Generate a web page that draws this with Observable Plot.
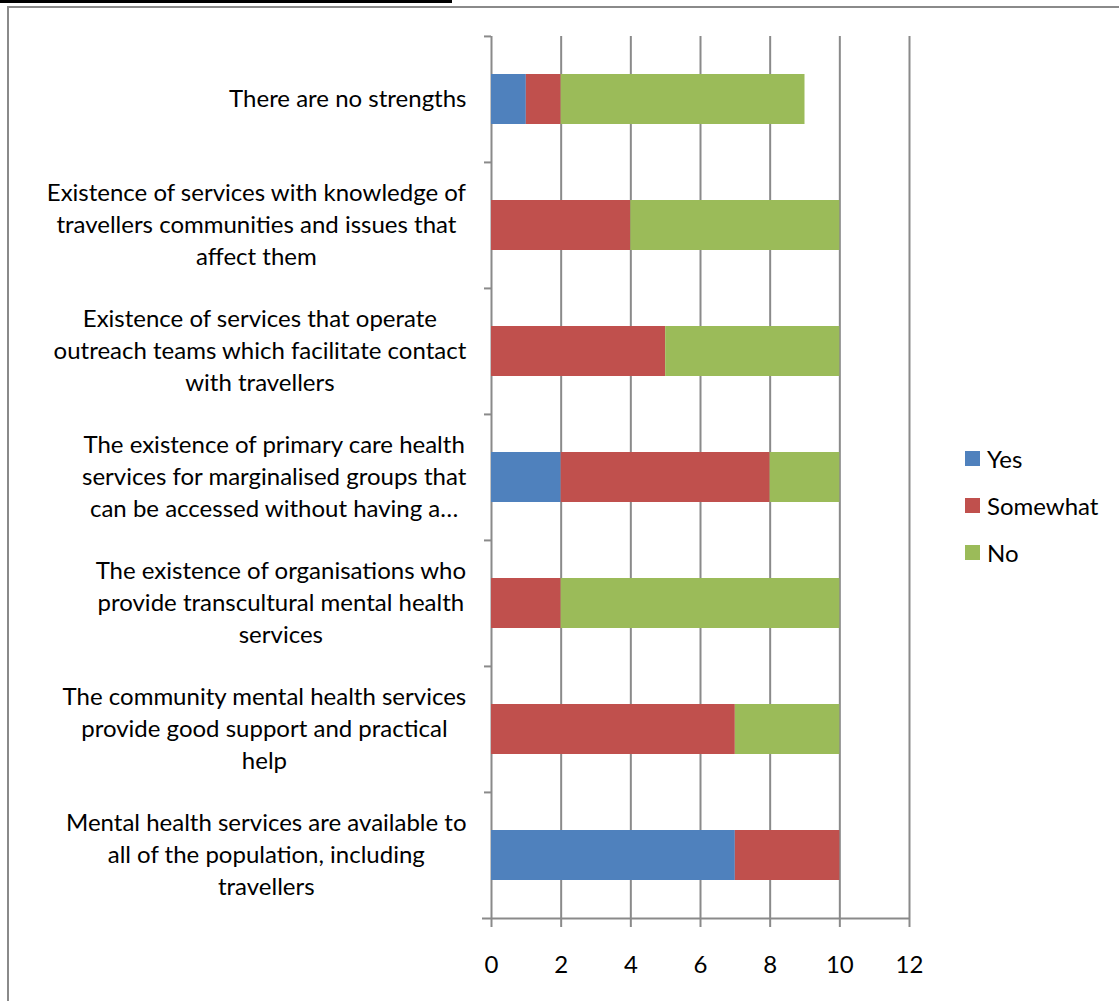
<!DOCTYPE html>
<html>
<head>
<meta charset="utf-8">
<script src="https://cdn.jsdelivr.net/npm/d3@7"></script>
<script src="https://cdn.jsdelivr.net/npm/@observablehq/plot@0.6"></script>
<style>
  html, body { margin: 0; padding: 0; background: #fff; }
  #wrap { position: relative; width: 1119px; height: 1001px; overflow: hidden; font-family: Lato, "Open Sans", sans-serif; }
  #topbar { position: absolute; left: 0; top: 0; width: 452px; height: 3px; background: #000; }
  #frame { position: absolute; left: 7px; top: 6px; width: 1130px; height: 1010px; border: 2px solid #8a8a8a; box-sizing: border-box; }
  #chart { position: absolute; left: 0; top: 0; }
  #legend { position: absolute; left: 965px; top: 435px; font-size: 24px; color: #000; }
  #legend .item { display: flex; align-items: center; height: 47px; }
  #legend .sw { width: 15px; height: 15px; margin-right: 7px; }
</style>
</head>
<body>
<div id="wrap">
  <div id="topbar"></div>
  <div id="frame"></div>
  <div id="chart"></div>
  <div id="legend"></div>
</div>
<script>
const categories = [
  "There are no strengths",
  "Existence of services with knowledge of\ntravellers communities and issues that\naffect them",
  "Existence of services that operate\noutreach teams which facilitate contact\nwith travellers",
  "The existence of primary care health\nservices for marginalised groups that\ncan be accessed without having a…",
  "The existence of organisations who\nprovide transcultural mental health\nservices",
  "The community mental health services\nprovide good support and practical\nhelp",
  "Mental health services are available to\nall of the population, including\ntravellers"
];
const seriesNames = ["Yes", "Somewhat", "No"];
const seriesColors = ["#4F81BD", "#C0504D", "#9BBB59"];
const yesValues      = [1, 0, 0, 2, 0, 0, 7];
const somewhatValues = [1, 4, 5, 6, 2, 7, 3];
const noValues       = [7, 6, 5, 2, 8, 3, 0];
const xTicks = [0, 2, 4, 6, 8, 10, 12];

const seriesValues = [yesValues, somewhatValues, noValues];
const data = [];
seriesNames.forEach((s, si) => {
  categories.forEach((c, ci) => {
    data.push({category: c, series: s, value: seriesValues[si][ci]});
  });
});

const W = 1119, H = 1001;
const mL = 491, mR = 210, mT = 36, mB = 82;
const step = (H - mT - mB) / categories.length;
const fontSize = 24;
const fontFamily = 'Lato, "Open Sans", sans-serif';

// measure label blocks so lines are centred inside a right-aligned block
const ctx = document.createElement("canvas").getContext("2d");
ctx.font = `${fontSize}px ${fontFamily}`;
const labelOffsets = categories.map(c => {
  const w = d3.max(c.split("\n"), l => ctx.measureText(l).width);
  return -(25 + w / 2);
});

const gridColor = "#8a8a8a";

const chart = Plot.plot({
  width: W,
  height: H,
  marginLeft: mL,
  marginRight: mR,
  marginTop: mT,
  marginBottom: mB,
  style: {fontFamily, fontSize: fontSize + "px", color: "#000", background: "transparent"},
  x: {domain: [0, 12], ticks: xTicks, label: null},
  y: {domain: categories, paddingInner: 0.6, paddingOuter: 0.3, axis: null},
  color: {domain: seriesNames, range: seriesColors},
  marks: [
    Plot.ruleX(xTicks, {stroke: gridColor, strokeWidth: 2}),
    Plot.barX(data, Plot.stackX({x: "value", y: "category", fill: "series", order: seriesNames})),
    // category boundary ticks on the y axis
    Plot.ruleY(categories, {y: d => d, x1: 0, x2: 0, insetLeft: -7, dy: -step / 2, stroke: gridColor, strokeWidth: 2}),
    Plot.ruleY([categories[categories.length - 1]], {y: d => d, x1: 0, x2: 12, insetLeft: -9, dy: step / 2, stroke: gridColor, strokeWidth: 2}),
    Plot.axisX({ticks: xTicks, tickSize: 8, tickPadding: 28, stroke: gridColor, strokeWidth: 2, fontSize: fontSize, tickFormat: d3.format("d"), label: null}),
    ...categories.map((c, i) => Plot.text([c], {
      y: d => d, x: () => 0, text: d => d, dx: labelOffsets[i], dy: -3,
      textAnchor: "middle", lineAnchor: "middle", lineHeight: 1.33,
      fontSize: fontSize, fill: "#000"
    }))
  ]
});

document.getElementById("chart").appendChild(chart);

const legend = document.getElementById("legend");
seriesNames.forEach((s, i) => {
  const it = document.createElement("div");
  it.className = "item";
  it.innerHTML = `<div class="sw" style="background:${seriesColors[i]}"></div><span>${s}</span>`;
  legend.appendChild(it);
});
</script>
</body>
</html>
